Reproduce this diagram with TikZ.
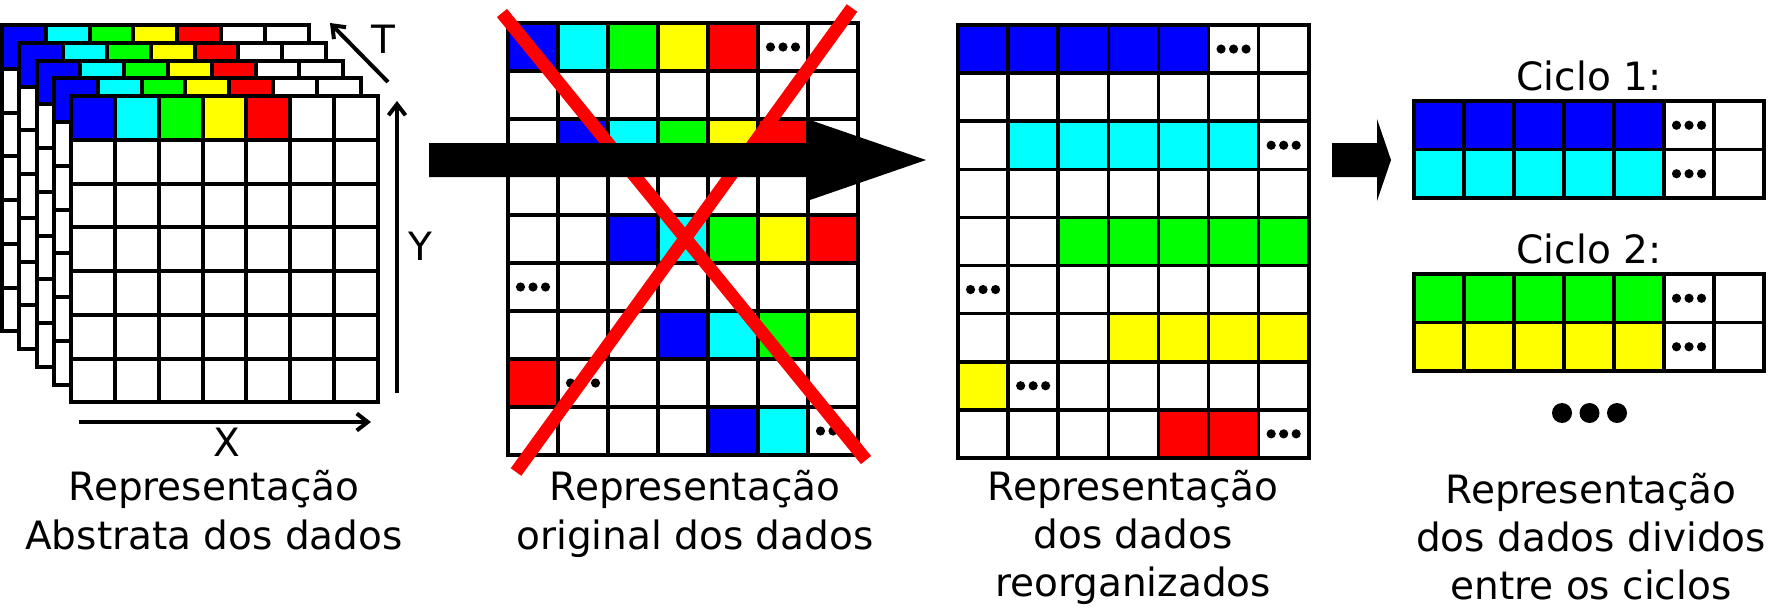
\documentclass[tikz,border=0pt]{standalone}
\usepackage{fontspec}
\setmainfont{DejaVu Sans}
\usetikzlibrary{arrows.meta}
\definecolor{cB}{RGB}{0,0,255}
\definecolor{cC}{RGB}{0,255,255}
\definecolor{cG}{RGB}{0,255,0}
\definecolor{cY}{RGB}{255,255,0}
\definecolor{cR}{RGB}{255,0,0}
\newcommand\mygridlines[3]{% ncols nrows width
  \foreach \i in {0,...,#1} \draw[line width=#3, line cap=rect] (\i,0) -- (\i,#2);
  \foreach \j in {0,...,#2} \draw[line width=#3, line cap=rect] (0,\j) -- (#1,\j);}
\newcommand\mycell[3]{\fill[#3] ({#1-1},{#2-1}) rectangle (#1,#2);}
\newcommand\mydots[2]{\fill ({#1-0.5},{#2-0.5}) circle[radius=4.6pt] ++(-12.5pt,0pt) circle[radius=4.6pt] ++(25pt,0pt) circle[radius=4.6pt];}
\begin{document}
\begin{tikzpicture}[x=1pt,y=-1pt,
  lbl/.style={inner sep=0pt, anchor=base, font=\fontsize{39}{47}\selectfont},
  axis/.style={line width=4pt, -{Straight Barb[length=11pt,width=17pt]}},
  redx/.style={line width=13pt, cR},
  fatarrow/.style={fill=black}]
\useasboundingbox (0,0) rectangle (1771,613);
\fill[white] (0,0) rectangle (1771,613);
% ---------- stacked abstract grids ----------
\foreach \k in {0,...,4}{
  \begin{scope}[shift={({2+17.3*\k},{25+17.75*\k})}, x=43.8pt, y=-43.75pt]
    \fill[white] (0,0) rectangle (7,7);
    \mycell{1}{1}{cB}\mycell{2}{1}{cC}\mycell{3}{1}{cG}\mycell{4}{1}{cY}\mycell{5}{1}{cR}
    \mygridlines{7}{7}{4pt}
  \end{scope}}
\coordinate (xs) at (79,422); \coordinate (xe) at (371,422);
\coordinate (ys) at (397,393); \coordinate (ye) at (397,101);
\coordinate (ts) at (388,82);  \coordinate (te) at (330,23);
\draw[axis] (xs) -- (xe);
\draw[axis] (ys) -- (ye);
\draw[axis] (ts) -- (te);
\node[lbl] (lx) at (227,456) {X};
\node[lbl] (ly) at (420,260) {Y};
\node[lbl] (lt) at (383,53) {T};
% ---------- original grid ----------
\begin{scope}[shift={(508,23)}, x=50pt, y=-48pt]
  \fill[white] (0,0) rectangle (7,9);
  \mycell{1}{1}{cB}\mycell{2}{1}{cC}\mycell{3}{1}{cG}\mycell{4}{1}{cY}\mycell{5}{1}{cR}
  \mycell{2}{3}{cB}\mycell{3}{3}{cC}\mycell{4}{3}{cG}\mycell{5}{3}{cY}\mycell{6}{3}{cR}
  \mycell{3}{5}{cB}\mycell{4}{5}{cC}\mycell{5}{5}{cG}\mycell{6}{5}{cY}\mycell{7}{5}{cR}
  \mycell{4}{7}{cB}\mycell{5}{7}{cC}\mycell{6}{7}{cG}\mycell{7}{7}{cY}
  \mycell{1}{8}{cR}
  \mycell{5}{9}{cB}\mycell{6}{9}{cC}
  \mygridlines{7}{9}{3.6pt}
  \mydots{6}{1}\mydots{1}{6}\mydots{2}{8}\mydots{7}{9}
\end{scope}
\coordinate (xa1) at (502,13); \coordinate (xa2) at (866,460);
\coordinate (xb1) at (852,8);  \coordinate (xb2) at (516,472);
\draw[redx] (xa1) -- (xa2);
\draw[redx] (xb1) -- (xb2);
\fill[fatarrow] (429,143) -- (810,143) -- (810,120) -- (926,160) -- (810,200) -- (810,177) -- (429,177) -- cycle;
% ---------- reorganized grid ----------
\begin{scope}[shift={(958,25)}, x=50.1pt, y=-48.1pt]
  \fill[white] (0,0) rectangle (7,9);
  \foreach \c in {1,...,5} {\mycell{\c}{1}{cB}}
  \foreach \c in {2,...,6} {\mycell{\c}{3}{cC}}
  \foreach \c in {3,...,7} {\mycell{\c}{5}{cG}}
  \foreach \c in {4,...,7} {\mycell{\c}{7}{cY}}
  \mycell{1}{8}{cY}
  \mycell{5}{9}{cR}\mycell{6}{9}{cR}
  \mygridlines{7}{9}{3.6pt}
  \mydots{6}{1}\mydots{7}{3}\mydots{1}{6}\mydots{2}{8}\mydots{7}{9}
\end{scope}
\fill[fatarrow] (1332,143) -- (1377,143) -- (1377,119) -- (1391,160) -- (1377,201) -- (1377,177) -- (1332,177) -- cycle;
% ---------- cycle grids ----------
\node[lbl] (c1) at (1589,90) {Ciclo 1:};
\begin{scope}[shift={(1414,101)}, x=50pt, y=-48.5pt]
  \fill[white] (0,0) rectangle (7,2);
  \foreach \c in {1,...,5} {\mycell{\c}{1}{cB}\mycell{\c}{2}{cC}}
  \mygridlines{7}{2}{3.6pt}
  \mydots{6}{1}\mydots{6}{2}
\end{scope}
\node[lbl] (c2) at (1589,263) {Ciclo 2:};
\begin{scope}[shift={(1414,274)}, x=50pt, y=-48.5pt]
  \fill[white] (0,0) rectangle (7,2);
  \foreach \c in {1,...,5} {\mycell{\c}{1}{cG}\mycell{\c}{2}{cY}}
  \mygridlines{7}{2}{3.6pt}
  \mydots{6}{1}\mydots{6}{2}
\end{scope}
\fill (1562,413) circle[radius=10pt] (1589.5,413) circle[radius=10pt] (1617,413) circle[radius=10pt];
% ---------- captions ----------
\node[lbl] (a1) at (214,500) {Representação};
\node[lbl] (a2) at (214,549) {Abstrata dos dados};
\node[lbl] (b1) at (695,500) {Representação};
\node[lbl] (b2) at (695,549) {original dos dados};
\node[lbl] (d1) at (1133,500) {Representação};
\node[lbl] (d2) at (1133,548) {dos dados};
\node[lbl] (d3) at (1133,596) {reorganizados};
\node[lbl] (e1) at (1591,503) {Representação};
\node[lbl] (e2) at (1591,551) {dos dados dividos};
\node[lbl] (e3) at (1591,599) {entre os ciclos};
\end{tikzpicture}
\end{document}
